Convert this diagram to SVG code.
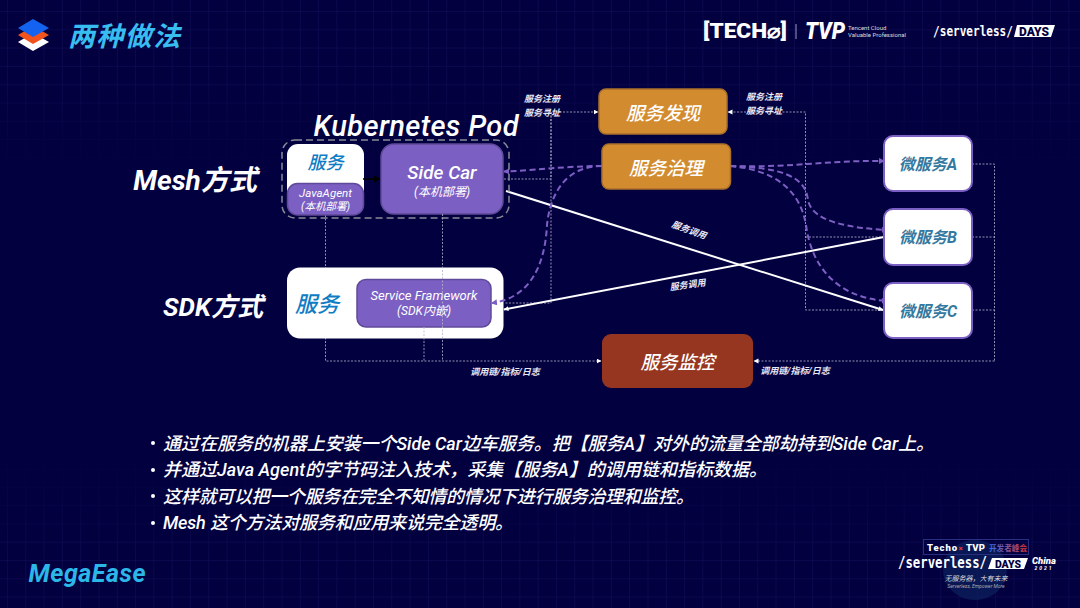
<svg xmlns="http://www.w3.org/2000/svg" width="1080" height="608" viewBox="0 0 1080 608">
<style>
text{font-family:"Roboto","Noto Sans CJK SC",sans-serif;font-style:italic;text-anchor:middle}
.body{font-size:18px;fill:#fff;font-weight:500;text-anchor:start}
.lbl{font-size:9px;fill:#e8e8f4;font-weight:700}
.side{font-size:28px;fill:#fff;font-weight:700}
.big{font-size:18.500px;fill:#fff;font-weight:500}
.micro{font-size:16px;fill:#34799f;font-weight:700}
.blue{font-size:22px;fill:#0f7cc4;font-weight:500}
.up{font-style:normal}
.dot{fill:none;stroke:#b4b4cc;stroke-opacity:.8;stroke-width:1;stroke-dasharray:2 1.500}
.dotn{fill:none;stroke:#b4b4cc;stroke-opacity:.8;stroke-width:1;stroke-dasharray:2 1.500;marker-end:url(#wa)}
.pur{fill:none;stroke:#7d5fc4;stroke-width:2;stroke-dasharray:6 3.500;marker-end:url(#pa)}
.sol{fill:none;stroke:#fff;stroke-width:2;marker-end:url(#wa)}
.p{fill:#7c5fc3;stroke:#5f4a99;stroke-width:1.500}
.o{fill:#d38b2f;stroke:#a9702a;stroke-width:1.500}
.w{fill:#fff;stroke:#7c5fc3;stroke-width:2}
</style>
<defs>
<marker id="wa" markerWidth="6" markerHeight="6" refX="4.500" refY="2.500" orient="auto" markerUnits="userSpaceOnUse"><path d="M0 0L5 2.500L0 5Z" fill="#fff"/></marker>
<marker id="pa" markerWidth="7" markerHeight="7" refX="5" refY="3" orient="auto" markerUnits="userSpaceOnUse"><path d="M0 0L6 3L0 6Z" fill="#7d5fc4"/></marker>
<marker id="ka" markerWidth="8" markerHeight="8" refX="6" refY="3.500" orient="auto" markerUnits="userSpaceOnUse"><path d="M0 0L7 3.500L0 7Z" fill="#000"/></marker>
<pattern id="grid" width="18.300" height="18.300" patternUnits="userSpaceOnUse" patternTransform="translate(7 11)"><path d="M18.300 0H0V18.300" fill="none" stroke="#0d0b52" stroke-width="1.500"/></pattern>
<linearGradient id="fade" x1="0" y1="0" x2="0" y2="1">
<stop offset=".12" stop-color="#03003f" stop-opacity="0"/>
<stop offset=".28" stop-color="#03003f"/>
<stop offset=".75" stop-color="#03003f"/>
<stop offset=".92" stop-color="#03003f" stop-opacity="0"/>
</linearGradient>
<linearGradient id="summit" x1="0" y1="0" x2="1" y2="0"><stop offset="0" stop-color="#2f6cf0"/><stop offset="1" stop-color="#e2382c"/></linearGradient>
</defs>

<!-- backdrop -->
<rect width="1080" height="608" fill="#03003f"/>
<rect width="1080" height="608" fill="url(#grid)"/>
<rect width="1080" height="608" fill="url(#fade)"/>

<!-- heading -->
<g id="logo">
<path d="M33 33L49 42L33 51L18 42Z" fill="#fff"/>
<path d="M33 26L49 35L33 44L18 35Z" fill="#f2531c"/>
<path d="M33 19L49 28L33 37L18 28Z" fill="#1463f0"/>
</g>
<text x="124" y="46" style="font-size:27px;fill:#38bdf0;font-weight:700" textLength="112">两种做法</text>

<!-- sponsor marks, top right -->
<g id="brands">
<text x="745" y="38" class="up" style="font-size:20px;fill:#fff;font-weight:900" textLength="84" lengthAdjust="spacingAndGlyphs">[TECH⌀]</text>
<path d="M796 24V39" stroke="#9a9ab8" stroke-width="1"/>
<text x="825" y="39" style="font-size:24px;fill:#fff;font-weight:900" textLength="40" lengthAdjust="spacingAndGlyphs">TVP</text>
<text x="848" y="30" class="up" style="font-size:6px;fill:#ddd;text-anchor:start">Tencent Cloud</text>
<text x="848" y="36.500" class="up" style="font-size:6px;fill:#ddd;text-anchor:start" textLength="58">Valuable Professional</text>
<text transform="translate(973 36) scale(.79 1)" class="up" style="font-family:'DejaVu Sans Mono',monospace;font-size:14px;fill:#fff;font-weight:700">/serverless/</text>
<path d="M1017 25H1055L1051 37H1014Z" fill="#fff"/>
<text x="1034" y="35.500" class="up" style="font-size:12px;fill:#03003f;font-weight:900">DAYS</text>
</g>

<!-- side captions -->
<text x="195" y="190" class="side">Mesh方式</text>
<text x="213" y="316" class="side" style="font-size:26px">SDK方式</text>
<text x="416" y="136" style="font-size:29px;fill:#fff;font-weight:500" textLength="205">Kubernetes Pod</text>

<!-- connectors behind the boxes -->
<g id="connectors">
<path class="dotn" d="M504 179H551V112H598"/>
<path class="dot" d="M551 112V303H504"/>
<path class="dotn" d="M884 310H805.500V112H728"/>
<path class="dot" d="M805.500 237H884"/>
<path class="dot" d="M972 164H994.500V361"/>
<path class="dot" d="M972 237H994.500M972 310H994.500"/>
<path class="dotn" d="M994.500 361H754"/>
<path class="dotn" d="M325.500 215V361H601"/>
<path class="sol" d="M506 191L883 310"/>
<path class="sol" d="M884 237L504 309.500"/>
<path class="pur" d="M602 166C565 166 525 171 504 171.500"/>
<path class="pur" d="M730 166C790 168 830 160 884 161"/>
<path class="pur" d="M730 166C780 168 805 175 808 200C812 222 850 228 887 230"/>
<path class="pur" d="M730 166C775 170 800 190 806 225C812 270 840 298 887 301"/>
</g>

<!-- connector captions -->
<text x="542" y="102" class="lbl">服务注册</text>
<text x="542" y="116" class="lbl">服务寻址</text>
<text x="764" y="100" class="lbl">服务注册</text>
<text x="764" y="114" class="lbl">服务寻址</text>
<text transform="translate(688 233) rotate(20)" class="lbl">服务调用</text>
<text transform="translate(688 288) rotate(-8)" class="lbl">服务调用</text>
<text x="505" y="375" class="lbl">调用链/指标/日志</text>
<text x="795" y="374" class="lbl">调用链/指标/日志</text>

<!-- pod -->
<g id="pod"><rect x="282" y="140" width="227" height="78" rx="13" fill="none" stroke="#8a8a96" stroke-width="1.500" stroke-dasharray="7 4"/></g>
<g id="mesh-service">
<rect x="287" y="144" width="77" height="60" rx="11" fill="#fff"/>
<text x="325.500" y="169" class="blue" style="font-size:18px">服务</text>
<rect x="287.500" y="183.500" width="76" height="31.500" rx="10" class="p"/>
<text x="325.500" y="197" style="font-size:11.500px;fill:#fff">JavaAgent</text>
<text x="325.500" y="210" style="font-size:10.500px;fill:#fff">(本机部署)</text>
</g>
<path d="M363 179H380" stroke="#000" stroke-width="1.500" marker-end="url(#ka)"/>
<g id="sidecar">
<rect x="381" y="144" width="122" height="70" rx="13" class="p"/>
<text x="442" y="179" style="font-size:19px;fill:#fff;font-weight:500">Side Car</text>
<text x="442" y="196" style="font-size:12px;fill:#fff">(本机部署)</text>
</g>
<g id="sdk">
<rect x="287" y="267.500" width="216.500" height="71" rx="13" fill="#fff"/>
<text x="317" y="312" class="blue">服务</text>
<rect x="357" y="279.500" width="134" height="47.500" rx="9" class="p"/>
<text x="424" y="300" style="font-size:13px;fill:#fff">Service Framework</text>
<text x="424" y="315" style="font-size:12px;fill:#fff">(SDK内嵌)</text>
</g>
<g id="discovery"><rect x="599" y="89" width="128" height="45" rx="7" class="o"/><text x="663" y="120" class="big">服务发现</text></g>
<g id="governance"><rect x="602" y="144" width="128.500" height="45" rx="7" class="o"/><text x="666" y="175" class="big">服务治理</text></g>
<g id="monitor"><rect x="602" y="334" width="151" height="54" rx="9" fill="#963520"/><text x="677.500" y="369" class="big">服务监控</text></g>
<g id="micro-a"><rect x="884" y="136" width="88" height="55" rx="9" class="w"/><text x="928" y="170" class="micro">微服务A</text></g>
<g id="micro-b"><rect x="884" y="209" width="88" height="56" rx="9" class="w"/><text x="928" y="243" class="micro">微服务B</text></g>
<g id="micro-c"><rect x="884" y="283" width="88" height="55" rx="9" class="w"/><text x="928" y="317" class="micro">微服务C</text></g>

<!-- links that run over the SDK box -->
<g id="connectors-front">
<path class="dot" d="M442.500 214V361M424 327V361"/>
<path class="pur" d="M602 166C565 166 550 195 547 225C545 265 530 298 492 303"/>
</g>

<!-- bullet notes -->
<circle cx="153" cy="443" r="2" fill="#fff"/><text x="163" y="450" class="body" textLength="771">通过在服务的机器上安装一个Side Car边车服务。把【服务A】对外的流量全部劫持到Side Car上。</text>
<circle cx="153" cy="470" r="2" fill="#fff"/><text x="163" y="476" class="body" textLength="604">并通过Java Agent的字节码注入技术，采集【服务A】的调用链和指标数据。</text>
<circle cx="153" cy="496" r="2" fill="#fff"/><text x="163" y="503" class="body" textLength="531">这样就可以把一个服务在完全不知情的情况下进行服务治理和监控。</text>
<circle cx="153" cy="523" r="2" fill="#fff"/><text x="163" y="529" class="body" textLength="350">Mesh 这个方法对服务和应用来说完全透明。</text>

<!-- footer marks -->
<text x="87" y="582" style="font-size:25px;fill:#2bb8e8;font-weight:700" textLength="117">MegaEase</text>
<g id="event">
<ellipse cx="975" cy="570" rx="32" ry="30" fill="#0e2a66" opacity=".55"/>
<rect x="923.500" y="539.500" width="105" height="15" fill="none" stroke="#27307e" stroke-width="1"/>
<text x="942" y="551" class="up" style="font-size:9.500px;fill:#fff;font-weight:900" textLength="30">Techo</text>
<text x="960.500" y="551" class="up" style="font-size:8px;fill:#e33;font-weight:900">×</text>
<text x="975.500" y="551" class="up" style="font-size:9.500px;fill:#fff;font-weight:900" textLength="19">TVP</text>
<text x="1008" y="551" class="up" style="font-size:7.600px;fill:url(#summit);font-weight:700">开发者峰会</text>
<text transform="translate(942.500 568) scale(.77 1)" class="up" style="font-family:'DejaVu Sans Mono',monospace;font-size:16px;fill:#fff;font-weight:700">/serverless/</text>
<path d="M992 558H1028L1024 569H988Z" fill="#fff"/>
<text x="1008" y="567.500" class="up" style="font-size:10.500px;fill:#03003f;font-weight:900">DAYS</text>
<text x="1044" y="564" style="font-size:9.500px;fill:#fff;font-weight:900">China</text>
<text x="1044" y="570" style="font-size:5px;fill:#fff;font-weight:700;letter-spacing:2px">2021</text>
<text x="976" y="581" style="font-size:7px;fill:#ddd">无服务器，大有未来</text>
<text x="976" y="588" style="font-size:5px;fill:#aaa">Serverless, Empower More</text>
</g>
</svg>
